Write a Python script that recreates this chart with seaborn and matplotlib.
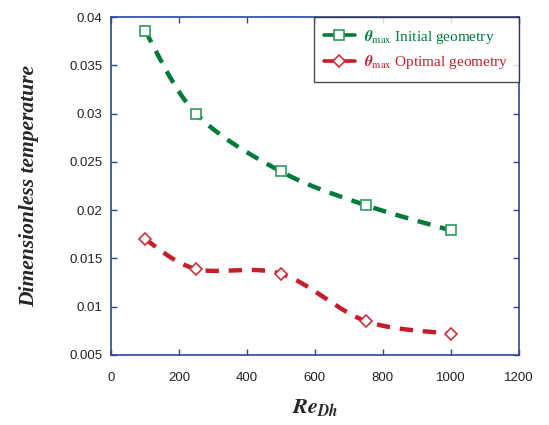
import numpy as np
import pandas as pd
import matplotlib
matplotlib.use("Agg")
import matplotlib.pyplot as plt
import seaborn as sns
from matplotlib.lines import Line2D

# data
re_dh = [100, 250, 500, 750, 1000]
theta_initial = [0.0386, 0.0300, 0.0240, 0.0205, 0.0179]
theta_optimal = [0.0170, 0.0139, 0.0134, 0.0085, 0.0072]

labels = [r'$\boldsymbol{\theta}_{\mathrm{max}}$ Initial geometry',
          r'$\boldsymbol{\theta}_{\mathrm{max}}$ Optimal geometry']
colors = ['#007a3a', '#c41e2a']
marker_colors = ['#2e9a5c', '#d0303a']
markers = ['s', 'D']


def smooth_line(x, y, n=60):
    # spreadsheet-style smoothed line: cubic Bezier with Catmull-Rom control points
    # (computed in normalised coordinates so both axes weigh alike)
    x = np.asarray(x, float)
    y = np.asarray(y, float)
    sx, sy = 1200.0, 0.035
    P = np.column_stack([x / sx, y / sy])
    P = np.vstack([P[0], P, P[-1]])
    t = np.linspace(0, 1, n)[:, None]
    pts = []
    for i in range(1, len(P) - 2):
        p0, p3 = P[i], P[i + 1]
        p1 = p0 + (P[i + 1] - P[i - 1]) / 6
        p2 = p3 - (P[i + 2] - P[i]) / 6
        seg = ((1 - t) ** 3) * p0 + 3 * ((1 - t) ** 2) * t * p1 + 3 * (1 - t) * t ** 2 * p2 + t ** 3 * p3
        pts.append(seg if i == 1 else seg[1:])
    pts = np.vstack(pts)
    return pts[:, 0] * sx, pts[:, 1] * sy


sns.set_style('ticks')
plt.rcParams['font.family'] = ['Liberation Sans', 'DejaVu Sans']
plt.rcParams['mathtext.fontset'] = 'stix'

axis_blue = '#2a479a'

fig = plt.figure(figsize=(5.49, 4.25), dpi=100)
ax = fig.add_axes([0.202, 0.165, 0.743, 0.795])

handles = []
for ys, lab, c, mc, m in zip([theta_initial, theta_optimal], labels, colors, marker_colors, markers):
    cx, cy = smooth_line(re_dh, ys)
    curve = pd.DataFrame({'Re': cx, 'theta': cy})
    sns.lineplot(data=curve, x='Re', y='theta', ax=ax, color=c, lw=3.2,
                 sort=False, estimator=None, legend=False)
    ax.lines[-1].set_dashes((3.0, 2.2))
    ax.plot(re_dh, ys, ls='none', marker=m, ms=7 if m == 's' else 6.5,
            mfc='white', mec=mc, mew=1.2, zorder=5)
    handles.append(Line2D([], [], color=c, lw=2.6, ls='-', marker=m,
                          ms=6.5, mfc='white', mec=mc, mew=1.2, label=lab))

ax.set_xlim(0, 1200)
ax.set_ylim(0.005, 0.04)
ax.set_xticks(np.arange(0, 1201, 200))
ax.set_yticks(np.arange(0.005, 0.0401, 0.005))
ax.set_yticklabels(['%g' % round(v, 3) for v in np.arange(0.005, 0.0401, 0.005)])
ax.tick_params(direction='in', length=4, width=1, color=axis_blue,
               labelsize=9.5, labelcolor='#222222', top=True, right=True, pad=6)
ax.tick_params(axis='x', pad=12)
for s in ax.spines.values():
    s.set_color(axis_blue)
    s.set_linewidth(1.2)

ax.set_xlabel(r'$\boldsymbol{Re}_{\boldsymbol{Dh}}$', fontsize=16, labelpad=10)
ax.set_ylabel('Dimensionless temperature', fontsize=15.5, family='Liberation Serif',
              weight='bold', style='italic', labelpad=22)

leg = ax.legend(handles=handles, loc='upper right', frameon=True, fancybox=False,
                prop={'family': 'Liberation Serif', 'size': 11},
                handlelength=2.0, handletextpad=0.6, borderaxespad=0.0,
                edgecolor='#222222', borderpad=0.7, labelspacing=0.5)
leg.get_frame().set_linewidth(1.0)
for t, c in zip(leg.get_texts(), colors):
    t.set_color(c)

fig.savefig('out.png', dpi=100)
